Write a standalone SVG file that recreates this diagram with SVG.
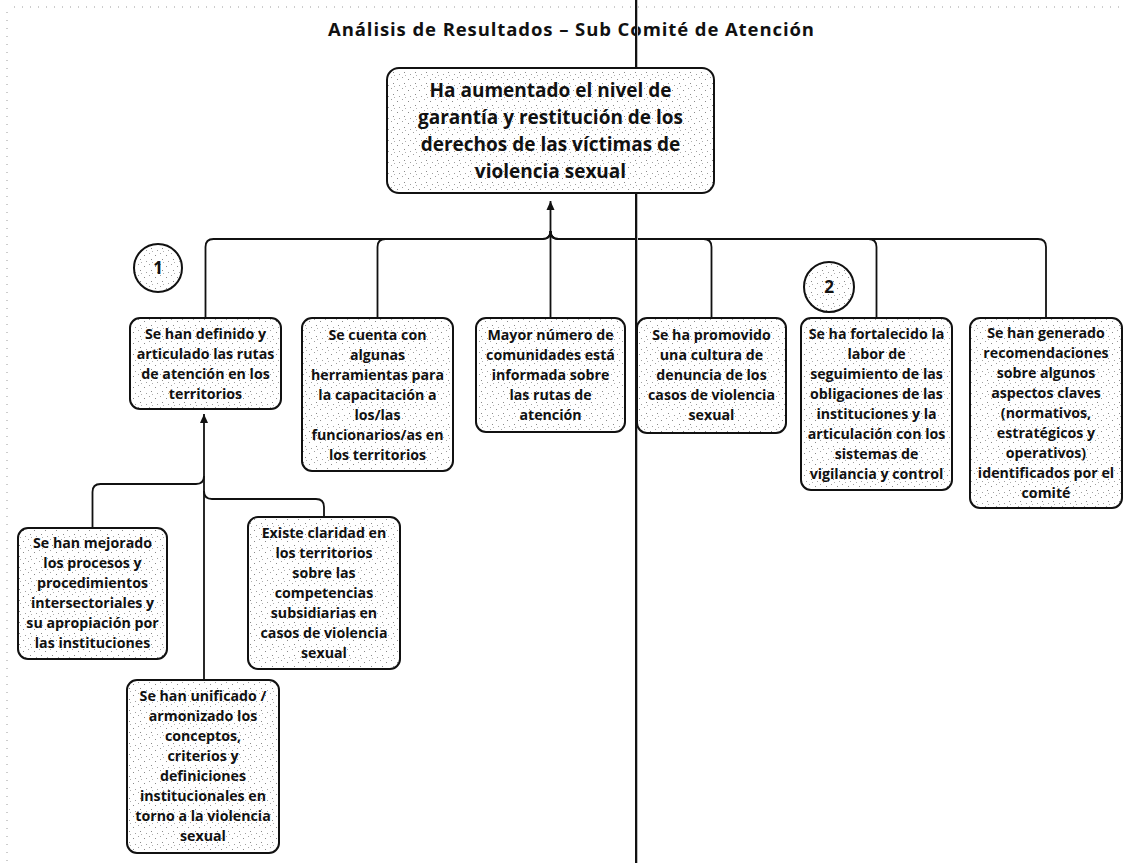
<svg xmlns="http://www.w3.org/2000/svg" width="1126" height="863" viewBox="0 0 1126 863">
  <defs>
    <style>
      .box { fill: url(#stipple); stroke: #111; stroke-width: 2; }
      .circ { fill: url(#stipple); stroke: #111; stroke-width: 2; }
      .link { fill: none; stroke: #111; stroke-width: 1.8; }
      .t { font-family: "Open Sans", "Liberation Sans", sans-serif; font-weight: 700; font-size: 14.2px; fill: #111; text-anchor: middle; }
      .tl { font-family: "Open Sans", "Liberation Sans", sans-serif; font-weight: 700; font-size: 19px; fill: #111; text-anchor: middle; }
      .title { font-family: "Open Sans", "Liberation Sans", sans-serif; font-weight: 700; font-size: 18.5px; fill: #111; }
      .num { font-family: "Open Sans", "Liberation Sans", sans-serif; font-weight: 700; font-size: 17px; fill: #111; text-anchor: middle; }
      .edge { fill: none; stroke: #9a9a9a; stroke-width: 1; stroke-dasharray: 1 7; }
    </style>
    <!-- light halftone stipple used as box fill -->
    <pattern id="stipple" width="11" height="11" patternUnits="userSpaceOnUse">
      <rect width="11" height="11" fill="#ffffff"/>
      <rect x="1" y="2" width="1" height="1" fill="#8a8a8a"/>
      <rect x="6" y="0" width="1" height="1" fill="#a0a0a0"/>
      <rect x="8" y="6" width="1" height="1" fill="#8a8a8a"/>
      <rect x="3" y="8" width="1" height="1" fill="#a0a0a0"/>
      <rect x="9" y="9" width="1" height="1" fill="#b0b0b0"/>
    </pattern>
    <marker id="arrow" markerWidth="10" markerHeight="10" refX="9" refY="5" orient="auto" markerUnits="userSpaceOnUse">
      <path d="M0,1 L9,5 L0,9 Z" fill="#111"/>
    </marker>
  </defs>

  <rect width="1126" height="863" fill="#ffffff"/>

  <!-- faint page edges -->
  <line class="edge" x1="14" y1="7" x2="1126" y2="7"/>
  <line class="edge" x1="7" y1="12" x2="7" y2="863"/>

  <!-- title -->
  <text class="title" x="328" y="36" textLength="486">Análisis de Resultados – Sub Comité de Atención</text>

  <!-- connectors -->
  <g id="connectors">
    <path class="link" d="M205.5 318 V247 Q205.5 239 213.5 239 H542.5 Q550.5 239 550.5 231"/>
    <path class="link" d="M377.5 318 V247 Q377.5 239 385.5 239 H542.5 Q550.5 239 550.5 231"/>
    <path class="link" d="M711.5 318 V247 Q711.5 239 703.5 239 H558.5 Q550.5 239 550.5 231"/>
    <path class="link" d="M876.5 318 V247 Q876.5 239 868.5 239 H558.5 Q550.5 239 550.5 231"/>
    <path class="link" d="M1046 318 V247 Q1046 239 1038 239 H558.5 Q550.5 239 550.5 231"/>
    <path class="link" d="M550.5 318 V201" marker-end="url(#arrow)"/>

    <path class="link" d="M92.5 528 V492 Q92.5 484 100.5 484 H196 Q204 484 204 476"/>
    <path class="link" d="M324 517 V507 Q324 499 316 499 H212 Q204 499 204 491"/>
    <path class="link" d="M204 680 V414" marker-end="url(#arrow)"/>
  </g>

  <!-- page fold line -->
  <line x1="637.5" y1="0" x2="637.5" y2="863" stroke="#bbb" stroke-width="1"/>
  <line x1="636" y1="0" x2="636" y2="863" stroke="#111" stroke-width="2"/>

  <g id="goal">
    <rect class="box" x="387" y="68" width="327" height="125" rx="12"/>
    <text class="tl" x="550.5" y="97">Ha aumentado el nivel de</text>
    <text class="tl" x="550.5" y="124">garantía y restitución de los</text>
    <text class="tl" x="550.5" y="151">derechos de las víctimas de</text>
    <text class="tl" x="550.5" y="178">violencia sexual</text>
  </g>

  <g id="marker-1">
    <circle class="circ" cx="158" cy="268" r="24"/>
    <text class="num" x="158" y="274">1</text>
  </g>
  <g id="marker-2">
    <circle class="circ" cx="829" cy="287" r="25"/>
    <text class="num" x="829" y="293">2</text>
  </g>

  <g id="rutas">
    <rect class="box" x="130" y="318" width="151" height="91" rx="10"/>
    <text class="t" x="205.5" y="339">Se han definido y</text>
    <text class="t" x="205.5" y="359">articulado las rutas</text>
    <text class="t" x="205.5" y="379">de atención en los</text>
    <text class="t" x="205.5" y="399">territorios</text>
  </g>

  <g id="herramientas">
    <rect class="box" x="302" y="318" width="151" height="153" rx="10"/>
    <text class="t" x="377.5" y="340">Se cuenta con</text>
    <text class="t" x="377.5" y="360">algunas</text>
    <text class="t" x="377.5" y="380">herramientas para</text>
    <text class="t" x="377.5" y="400">la capacitación a</text>
    <text class="t" x="377.5" y="420">los/las</text>
    <text class="t" x="377.5" y="440">funcionarios/as en</text>
    <text class="t" x="377.5" y="460">los territorios</text>
  </g>

  <g id="comunidades">
    <rect class="box" x="476" y="318" width="149" height="114" rx="10"/>
    <text class="t" x="550.5" y="340">Mayor número de</text>
    <text class="t" x="550.5" y="360">comunidades está</text>
    <text class="t" x="550.5" y="380">informada sobre</text>
    <text class="t" x="550.5" y="400">las rutas de</text>
    <text class="t" x="550.5" y="420">atención</text>
  </g>

  <g id="denuncia">
    <rect class="box" x="637" y="318" width="149" height="115" rx="10"/>
    <text class="t" x="711.5" y="340">Se ha promovido</text>
    <text class="t" x="711.5" y="360">una cultura de</text>
    <text class="t" x="711.5" y="380">denuncia de los</text>
    <text class="t" x="711.5" y="400">casos de violencia</text>
    <text class="t" x="711.5" y="420">sexual</text>
  </g>

  <g id="seguimiento">
    <rect class="box" x="801" y="318" width="151" height="172" rx="10"/>
    <text class="t" x="876.5" y="339">Se ha fortalecido la</text>
    <text class="t" x="876.5" y="359">labor de</text>
    <text class="t" x="876.5" y="379">seguimiento de las</text>
    <text class="t" x="876.5" y="399">obligaciones de las</text>
    <text class="t" x="876.5" y="419">instituciones y la</text>
    <text class="t" x="876.5" y="439">articulación con los</text>
    <text class="t" x="876.5" y="459">sistemas de</text>
    <text class="t" x="876.5" y="479">vigilancia y control</text>
  </g>

  <g id="recomendaciones">
    <rect class="box" x="970" y="318" width="152" height="190" rx="10"/>
    <text class="t" x="1046" y="338">Se han generado</text>
    <text class="t" x="1046" y="358">recomendaciones</text>
    <text class="t" x="1046" y="378">sobre algunos</text>
    <text class="t" x="1046" y="398">aspectos claves</text>
    <text class="t" x="1046" y="418">(normativos,</text>
    <text class="t" x="1046" y="438">estratégicos y</text>
    <text class="t" x="1046" y="458">operativos)</text>
    <text class="t" x="1046" y="478">identificados por el</text>
    <text class="t" x="1046" y="498">comité</text>
  </g>

  <g id="procesos">
    <rect class="box" x="18" y="528" width="149" height="131" rx="10"/>
    <text class="t" x="92.5" y="548">Se han mejorado</text>
    <text class="t" x="92.5" y="568">los procesos y</text>
    <text class="t" x="92.5" y="588">procedimientos</text>
    <text class="t" x="92.5" y="608">intersectoriales y</text>
    <text class="t" x="92.5" y="628">su apropiación por</text>
    <text class="t" x="92.5" y="648">las instituciones</text>
  </g>

  <g id="competencias">
    <rect class="box" x="248" y="517" width="152" height="152" rx="10"/>
    <text class="t" x="324" y="538">Existe claridad en</text>
    <text class="t" x="324" y="558">los territorios</text>
    <text class="t" x="324" y="578">sobre las</text>
    <text class="t" x="324" y="598">competencias</text>
    <text class="t" x="324" y="618">subsidiarias en</text>
    <text class="t" x="324" y="638">casos de violencia</text>
    <text class="t" x="324" y="658">sexual</text>
  </g>

  <g id="conceptos">
    <rect class="box" x="127" y="680" width="152" height="173" rx="10"/>
    <text class="t" x="203" y="701">Se han unificado /</text>
    <text class="t" x="203" y="721">armonizado los</text>
    <text class="t" x="203" y="741">conceptos,</text>
    <text class="t" x="203" y="761">criterios y</text>
    <text class="t" x="203" y="781">definiciones</text>
    <text class="t" x="203" y="801">institucionales en</text>
    <text class="t" x="203" y="821">torno a la violencia</text>
    <text class="t" x="203" y="841">sexual</text>
  </g>
</svg>
